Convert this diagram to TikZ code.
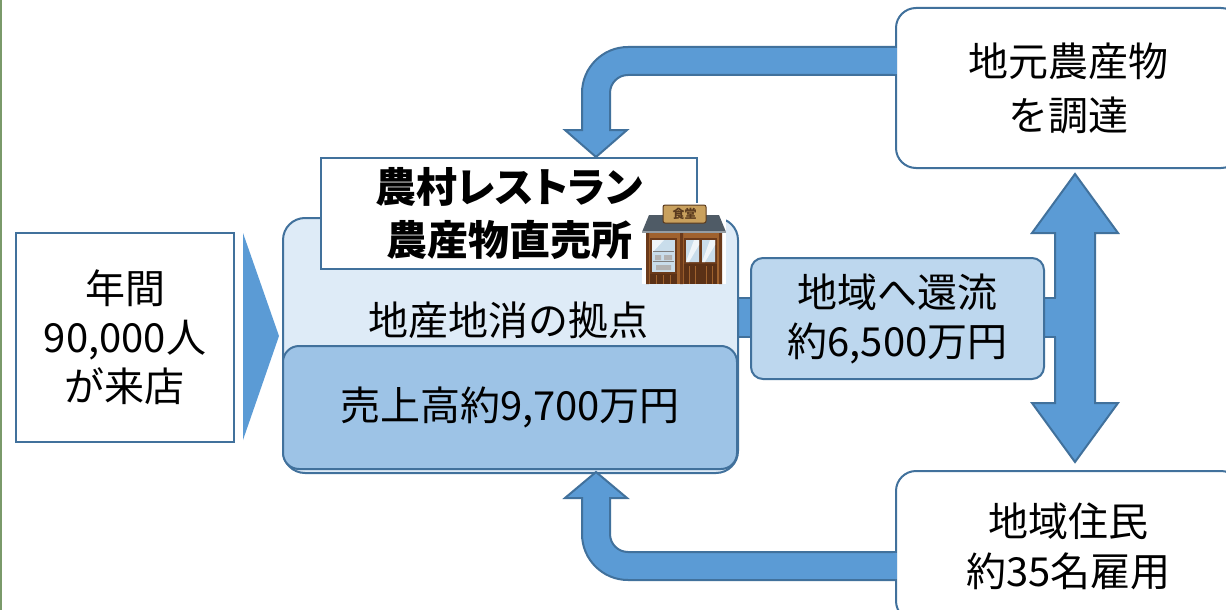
\documentclass[tikz,border=0pt]{standalone}
\usepackage{fontspec}
\setmainfont{Noto Sans CJK JP}
\newfontfamily\titlefont{Noto Sans CJK JP}[RawFeature=+palt]
\usetikzlibrary{calc}

\definecolor{lineblue}{HTML}{41719C}
\definecolor{arrowblue}{HTML}{5B9BD5}
\definecolor{hubfill}{HTML}{DEEBF7}
\definecolor{salesfill}{HTML}{9DC3E6}
\definecolor{flowfill}{HTML}{BDD7EE}
\definecolor{edgegreen}{HTML}{7A9A6A}
\definecolor{shopbrown}{HTML}{A0622E}
\definecolor{shopdark}{HTML}{6B3A1A}
\definecolor{glass}{HTML}{C9DDEB}
\definecolor{roofgray}{HTML}{4F5B66}
\definecolor{signtan}{HTML}{C9A15E}
\definecolor{signedge}{HTML}{5A3A1E}

\begin{document}
\begin{tikzpicture}[x=1pt,y=-1pt,
  panel/.style={draw=lineblue, line width=2pt, inner sep=0pt, anchor=north west,
    align=center, font=\fontsize{40}{49}\selectfont},
  blockarrow/.style={fill=arrowblue, draw=lineblue, line width=2pt, line join=miter},
  label/.style={inner sep=0pt, font=\fontsize{40}{49}\selectfont}]

\useasboundingbox (0,0) rectangle (1226,610);
\fill[white] (0,0) rectangle (1226,610);
\draw[edgegreen, line width=2pt] (1,0) -- (1,610);

% visitors and the chevron into the hub
\node[panel, fill=white, minimum width=218pt, minimum height=209pt] (visitors) at (15,232)
  {年間\\90,000人\\が来店};
\fill[arrowblue] (243,233) -- (279,336) -- (243,440) -- cycle;

% vertical double arrow between procurement and employment
\path[blockarrow] (1075,174) -- (1118,233) -- (1095,233) -- (1095,403) -- (1118,403)
  -- (1075,462) -- (1032,403) -- (1055,403) -- (1055,233) -- (1032,233) -- cycle;

% horizontal band: hub -> flow box -> double arrow
\fill[arrowblue] (736,298) rectangle (1057,337);
\draw[lineblue, line width=2pt] (736,298) -- (1056,298) (736,337) -- (1056,337);

% hub
\node[panel, fill=hubfill, rounded corners=22pt, minimum width=455pt, minimum height=255pt]
  (hub) at (282,217) {};
\node[panel, fill=salesfill, rounded corners=16pt, minimum width=454pt, minimum height=123pt]
  (sales) at (282,345) {売上高約9,700万円};
\node[label] (hublabel) at (508,320) {地産地消の拠点};
\node[panel, fill=white, minimum width=376pt, minimum height=111pt,
  font=\titlefont\fontsize{41}{53}\selectfont\bfseries] (title) at (320,157) {農村レストラン\\農産物直売所};

% shop icon
\begin{scope}[shift={(642,203)}]
  \fill[white] (0,0) rectangle (84,81);
  \fill[shopbrown] (4,28) rectangle (80,81);
  \fill[shopdark] (4,28) rectangle (7,81) (38,28) rectangle (41,81) (77,28) rectangle (80,81);
  \fill[shopdark] (8,35) rectangle (35,71);
  \fill[glass] (10,37) rectangle (33,69);
  \fill[white!70!glass] (10,37) -- (22,37) -- (10,50) -- cycle;
  \draw[gray, line width=1pt] (11,48) -- (32,48) (11,58) -- (32,58);
  \fill[gray!60] (13,52) rectangle (19,57) (22,52) rectangle (30,57) (14,62) rectangle (29,67);
  \fill[shopdark] (42,35) rectangle (75,61);
  \fill[glass] (44,37) rectangle (57,59) (60,37) rectangle (73,59);
  \fill[white!70!glass] (52,37) -- (57,37) -- (57,42) -- (47,59) -- (44,59) -- cycle;
  \fill[white!70!glass] (68,37) -- (73,37) -- (73,42) -- (63,59) -- (60,59) -- cycle;
  \fill[shopdark!85!black] (42,61) rectangle (75,81);
  \draw[shopbrown, line width=1pt] (47,63) -- (47,81) (53,63) -- (53,81) (64,63) -- (64,81) (70,63) -- (70,81);
  \fill[shopdark!85!black] (8,71) rectangle (35,81);
  \draw[shopbrown, line width=1pt] (14,72) -- (14,81) (21,72) -- (21,81) (28,72) -- (28,81);
  \fill[roofgray] (7,12) -- (77,12) -- (84,29) -- (0,29) -- cycle;
  \draw[roofgray!60!white, line width=1.5pt] (0,29) -- (84,29);
  \fill[signtan, draw=signedge, line width=1pt, rounded corners=2pt] (21,2) rectangle (64,20);
  \node[inner sep=0pt, text=signedge, font=\fontsize{12}{12}\selectfont\bfseries] (signtext) at (42.5,11) {食堂};
\end{scope}

% money flowing back to the area
\node[panel, fill=flowfill, rounded corners=12pt, minimum width=293pt, minimum height=121pt]
  (flow) at (750,257) {地域へ還流\\約6,500万円};

% procurement and employment
\node[panel, fill=white, rounded corners=20pt, minimum width=345pt, minimum height=160pt,
  font=\fontsize{40}{54}\selectfont] (procure) at (895,7) {地元農産物\\を調達};
\node[panel, fill=white, rounded corners=20pt, minimum width=345pt, minimum height=150pt,
  font=\fontsize{40}{50}\selectfont] (staff) at (895,470) {地域住民\\約35名雇用};

% bent arrow: produce -> hub
\coordinate (supplyTip) at (596,157);
\path[blockarrow] (895,47) -- (628,47) .. controls (602.6,47) and (582,67.6) .. (582,93)
  -- (582,130) -- (565,130) -- (supplyTip) -- (627,130) -- (610,130) -- (610,93)
  .. controls (610,83.06) and (618.06,75) .. (628,75) -- (895,75);
\fill[arrowblue] (893,48) rectangle (897,74);

% bent arrow: employment -> hub
\coordinate (staffTip) at (596,472);
\path[blockarrow] (895,580) -- (628,580) .. controls (602.6,580) and (582,559.4) .. (582,534)
  -- (582,498) -- (565,498) -- (staffTip) -- (627,498) -- (610,498) -- (610,534)
  .. controls (610,543.94) and (618.06,552) .. (628,552) -- (895,552);
\fill[arrowblue] (893,553) rectangle (897,579);
\end{tikzpicture}
\end{document}
